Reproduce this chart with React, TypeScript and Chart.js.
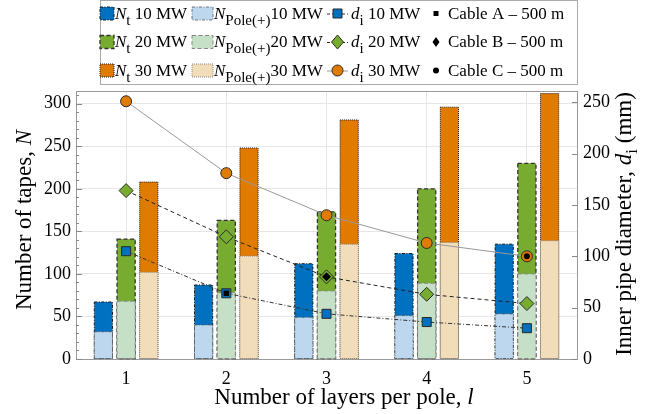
import React, { useEffect, useRef } from "react";
import { Chart, registerables } from "chart.js";
Chart.register(...registerables);

const FONT = "'Liberation Serif', 'Times New Roman', Times, serif";

// ---- data ----
const layers = ["1", "2", "3", "4", "5"];
const nt10 = [67, 87, 112, 124, 135];
const pole10 = [32, 40, 49, 51, 53];
const nt20 = [141, 163, 173, 200, 230];
const pole20 = [68, 78, 80, 89, 100];
const nt30 = [208, 248, 281, 296, 312];
const pole30 = [102, 121, 135, 137, 139];
const di10 = [105, 64, 44, 36, 30];
const di20 = [164, 119, 80, 63, 54];
const di30 = [251, 181, 140, 113, 100];
const cableA = [null, 64, null, null, null];
const cableB = [null, null, 80, null, null];
const cableC = [null, null, null, null, 100];
const leftMax = 315;
const rightMax = 261;
const tickStep = 50;

// ---- styles ----
const C = {
  nt10: "#0070C0", pole10: "#BDD7EE",
  nt20: "#77AC30", pole20: "#C6E0C8",
  nt30: "#E07B00", pole30: "#F2DDBB",
};
const borders: Record<string, { color: string; dash: number[]; width: number }> = {
  nt10: { color: "#1a1a1a", dash: [3, 1.5, 1, 1.5], width: 1 },
  pole10: { color: "#555", dash: [3, 1.5, 1, 1.5], width: 0.8 },
  nt20: { color: "#333", dash: [4, 2.5], width: 1.3 },
  pole20: { color: "#888", dash: [4, 2.5], width: 1 },
  nt30: { color: "#1a1a1a", dash: [1, 1], width: 1 },
  pole30: { color: "#888", dash: [1, 1], width: 1 },
};
const lineStyles = {
  di10: { color: "#333", dash: [4, 2, 1, 2] },
  di20: { color: "#222", dash: [4, 3] },
  di30: { color: "#999", dash: [] as number[] },
};

function bar(label: string, data: number[], key: string, stack: string, order: number) {
  return {
    type: "bar" as const,
    label,
    data,
    backgroundColor: (C as any)[key],
    borderWidth: 0,
    stack,
    order,
    yAxisID: "y",
    dashBorder: borders[key],
  };
}

function line(label: string, data: any[], st: { color: string; dash: number[] }, style: string, radius: number, fill: string) {
  return {
    type: "line" as const,
    label,
    data,
    yAxisID: "y2",
    borderColor: st.color,
    borderDash: st.dash,
    borderWidth: 1,
    pointStyle: style,
    pointRadius: radius,
    pointBackgroundColor: fill,
    pointBorderColor: "#2a2a2a",
    pointBorderWidth: 1,
    order: 0,
    fill: false,
  };
}

function cable(label: string, data: any[], style: string, radius: number) {
  return {
    type: "line" as const,
    label,
    data,
    yAxisID: "y2",
    showLine: false,
    pointStyle: style,
    pointRadius: radius,
    pointBackgroundColor: "#000",
    pointBorderColor: "#000",
    pointBorderWidth: 0,
    order: -1,
  };
}

function drawMarker(ctx: CanvasRenderingContext2D, type: string, x: number, y: number, w: number, h: number, fill: string, stroke: string | null) {
  ctx.beginPath();
  if (type === "rect") ctx.rect(x - w / 2, y - h / 2, w, h);
  else if (type === "diamond") {
    ctx.moveTo(x, y - h / 2);
    ctx.lineTo(x + w / 2, y);
    ctx.lineTo(x, y + h / 2);
    ctx.lineTo(x - w / 2, y);
    ctx.closePath();
  } else ctx.arc(x, y, w / 2, 0, Math.PI * 2);
  ctx.fillStyle = fill;
  ctx.fill();
  if (stroke) {
    ctx.strokeStyle = stroke;
    ctx.lineWidth = 1;
    ctx.setLineDash([]);
    ctx.stroke();
  }
}

type Part = { t: string; italic?: boolean; sub?: boolean };
function richWidth(ctx: CanvasRenderingContext2D, parts: Part[], size: number, subSize: number) {
  let w = 0;
  for (const p of parts) {
    ctx.font = `${p.italic ? "italic " : ""}${p.sub ? subSize : size}px ${FONT}`;
    w += ctx.measureText(p.t).width;
  }
  return w;
}
function drawRich(ctx: CanvasRenderingContext2D, x: number, y: number, parts: Part[], size: number, subSize: number, subOff: number) {
  let cx = x;
  ctx.textAlign = "left";
  ctx.textBaseline = "alphabetic";
  ctx.fillStyle = "#000";
  for (const p of parts) {
    ctx.font = `${p.italic ? "italic " : ""}${p.sub ? subSize : size}px ${FONT}`;
    ctx.fillText(p.t, cx, y + (p.sub ? subOff : 0));
    cx += ctx.measureText(p.t).width;
  }
}

const decorPlugin = {
  id: "decor",
  afterDatasetDraw(chart: any, args: any) {
    const ds = chart.data.datasets[args.index];
    if (!ds.dashBorder) return;
    const ctx: CanvasRenderingContext2D = chart.ctx;
    const b = ds.dashBorder;
    ctx.save();
    ctx.strokeStyle = b.color;
    ctx.lineWidth = b.width;
    ctx.setLineDash(b.dash);
    args.meta.data.forEach((el: any) => {
      const { x, y, base, width } = el.getProps(["x", "y", "base", "width"], true);
      ctx.strokeRect(x - width / 2, Math.min(y, base), width, Math.abs(base - y));
    });
    ctx.restore();
  },
  afterDraw(chart: any) {
    const ctx: CanvasRenderingContext2D = chart.ctx;
    const a = chart.chartArea;
    const ys = chart.scales.y;
    const y2 = chart.scales.y2;
    ctx.save();
    // top frame
    ctx.strokeStyle = "#999";
    ctx.lineWidth = 1;
    ctx.setLineDash([]);
    ctx.beginPath();
    ctx.moveTo(a.left, a.top + 0.5);
    ctx.lineTo(a.right, a.top + 0.5);
    ctx.stroke();
    // inward ticks
    ctx.strokeStyle = "#888";
    ctx.beginPath();
    for (let v = 0; v <= leftMax; v += 10) {
      const py = Math.round(ys.getPixelForValue(v)) + 0.5;
      const len = v % tickStep === 0 ? 6 : 3;
      ctx.moveTo(a.left, py);
      ctx.lineTo(a.left + len, py);
    }
    for (let v = 0; v <= rightMax; v += tickStep) {
      const py = Math.round(y2.getPixelForValue(v)) + 0.5;
      ctx.moveTo(a.right, py);
      ctx.lineTo(a.right - 5, py);
    }
    ctx.stroke();

    // axis titles
    const TS = 23;
    const xt: Part[] = [{ t: "Number of layers per pole, " }, { t: "l", italic: true }];
    const xw = richWidth(ctx, xt, TS, 17);
    drawRich(ctx, 344 - xw / 2, 404, xt, TS, 17, 6);

    const lt: Part[] = [{ t: "Number of tapes, " }, { t: "N", italic: true }];
    ctx.save();
    ctx.translate(31, 220);
    ctx.rotate(-Math.PI / 2);
    const lw = richWidth(ctx, lt, TS, 17);
    drawRich(ctx, -lw / 2, 0, lt, TS, 17, 6);
    ctx.restore();

    const rt: Part[] = [{ t: "Inner pipe diameter, " }, { t: "d", italic: true }, { t: "i", sub: true }, { t: " (mm)" }];
    ctx.save();
    ctx.translate(631, 224);
    ctx.rotate(-Math.PI / 2);
    const rw = richWidth(ctx, rt, TS, 17);
    drawRich(ctx, -rw / 2, 0, rt, TS, 17, 6);
    ctx.restore();

    // legend
    ctx.strokeStyle = "#aaa";
    ctx.lineWidth = 1;
    ctx.setLineDash([]);
    ctx.strokeRect(100.5, 0.5, 477, 84);
    const LS = 17, SS = 15, SO = 6;
    const rows = [13.5, 42, 70.5];
    const ntKeys = ["nt10", "nt20", "nt30"];
    const poleKeys = ["pole10", "pole20", "pole30"];
    const mw = ["10 MW", "20 MW", "30 MW"];
    const diKeys = ["di10", "di20", "di30"];
    const diMarkers = [
      { type: "rect", w: 9, h: 9, fill: C.nt10 },
      { type: "diamond", w: 12, h: 14, fill: C.nt20 },
      { type: "circle", w: 11, h: 11, fill: C.nt30 },
    ];
    const cabMarkers = [
      { type: "rect", w: 5, h: 5 },
      { type: "diamond", w: 7, h: 10 },
      { type: "circle", w: 6, h: 6 },
    ];
    const cabLabels = ["Cable A \u2013 500 m", "Cable B \u2013 500 m", "Cable C \u2013 500 m"];
    rows.forEach((cy, i) => {
      const b1 = borders[ntKeys[i]];
      ctx.fillStyle = (C as any)[ntKeys[i]];
      ctx.fillRect(100, cy - 6.5, 14, 13);
      ctx.strokeStyle = b1.color; ctx.lineWidth = b1.width; ctx.setLineDash(b1.dash);
      ctx.strokeRect(100, cy - 6.5, 14, 13);
      drawRich(ctx, 115, cy + 5, [{ t: "N", italic: true }, { t: "t", sub: true }, { t: " " + mw[i] }], LS, SS, SO);
      const b2 = borders[poleKeys[i]];
      ctx.fillStyle = (C as any)[poleKeys[i]];
      ctx.fillRect(192, cy - 6.5, 21, 13);
      ctx.strokeStyle = b2.color; ctx.lineWidth = b2.width; ctx.setLineDash(b2.dash);
      ctx.strokeRect(192, cy - 6.5, 21, 13);
      drawRich(ctx, 214, cy + 5, [{ t: "N", italic: true }, { t: "Pole(+)", sub: true }, { t: mw[i] }], LS, SS, SO);
      const ls = (lineStyles as any)[diKeys[i]];
      ctx.strokeStyle = ls.color; ctx.lineWidth = 1; ctx.setLineDash(ls.dash.length ? [3, 2] : []);
      ctx.beginPath(); ctx.moveTo(327, cy + 0.5); ctx.lineTo(348, cy + 0.5); ctx.stroke();
      const m = diMarkers[i];
      drawMarker(ctx, m.type, 337.5, cy, m.w, m.h, m.fill, "#2a2a2a");
      drawRich(ctx, 351, cy + 5, [{ t: "d", italic: true }, { t: "i", sub: true }, { t: " " + mw[i] }], LS, SS, SO);
      const cm = cabMarkers[i];
      drawMarker(ctx, cm.type, 436, cy, cm.w, cm.h, "#000", null);
      drawRich(ctx, 448, cy + 5, [{ t: cabLabels[i] }], LS, SS, SO);
    });
    ctx.restore();
  },
};

export default function App() {
  const ref = useRef<HTMLCanvasElement>(null);
  useEffect(() => {
    const tickFont = { family: FONT, size: 18 };
    const chart = new Chart(ref.current as HTMLCanvasElement, {
      type: "bar",
      data: {
        labels: layers,
        datasets: [
          bar("Nt 10 MW", nt10, "nt10", "a", 2),
          bar("Nt 20 MW", nt20, "nt20", "b", 2),
          bar("Nt 30 MW", nt30, "nt30", "c", 2),
          bar("NPole(+) 10 MW", pole10, "pole10", "a", 1),
          bar("NPole(+) 20 MW", pole20, "pole20", "b", 1),
          bar("NPole(+) 30 MW", pole30, "pole30", "c", 1),
          line("di 10 MW", di10, lineStyles.di10, "rect", 6.4, C.nt10),
          line("di 20 MW", di20, lineStyles.di20, "rectRot", 7, C.nt20),
          line("di 30 MW", di30, lineStyles.di30, "circle", 5.5, C.nt30),
          cable("Cable A \u2013 500 m", cableA, "rect", 3.8),
          cable("Cable B \u2013 500 m", cableB, "rectRot", 4.5),
          cable("Cable C \u2013 500 m", cableC, "circle", 3),
        ] as any,
      },
      options: {
        responsive: false,
        animation: false,
        events: [],
        categoryPercentage: 0.68,
        barPercentage: 0.8,
        layout: { padding: { top: 91, left: 0, right: 0, bottom: 0 } },
        plugins: { legend: { display: false }, title: { display: false }, tooltip: { enabled: false } },
        scales: {
          x: {
            type: "category",
            offset: true,
            stacked: true,
            grid: { offset: false, color: "#e6e6e6", drawTicks: false },
            border: { color: "#999" },
            ticks: { font: tickFont, color: "#000", padding: 9 },
            afterFit: (s: any) => { s.height = 55; },
          },
          y: {
            position: "left",
            min: 0,
            max: leftMax,
            stacked: false,
            grid: { color: "#e6e6e6", drawTicks: false },
            border: { color: "#999" },
            ticks: { stepSize: tickStep, includeBounds: false, font: tickFont, color: "#000", padding: 5 },
            afterFit: (s: any) => { s.width = 76; },
          },
          y2: {
            position: "right",
            min: 0,
            max: rightMax,
            grid: { display: false, drawTicks: false },
            border: { color: "#999" },
            ticks: { stepSize: tickStep, includeBounds: false, font: tickFont, color: "#000", padding: 6 },
            afterFit: (s: any) => { s.width = 87; },
          },
        },
      } as any,
      plugins: [decorPlugin],
    });
    return () => chart.destroy();
  }, []);
  return (
    <div style={{ position: "fixed", left: 0, top: 0, width: 664, height: 414, background: "#fff" }}>
      <canvas ref={ref} width={664} height={414} style={{ display: "block" }} />
    </div>
  );
}
